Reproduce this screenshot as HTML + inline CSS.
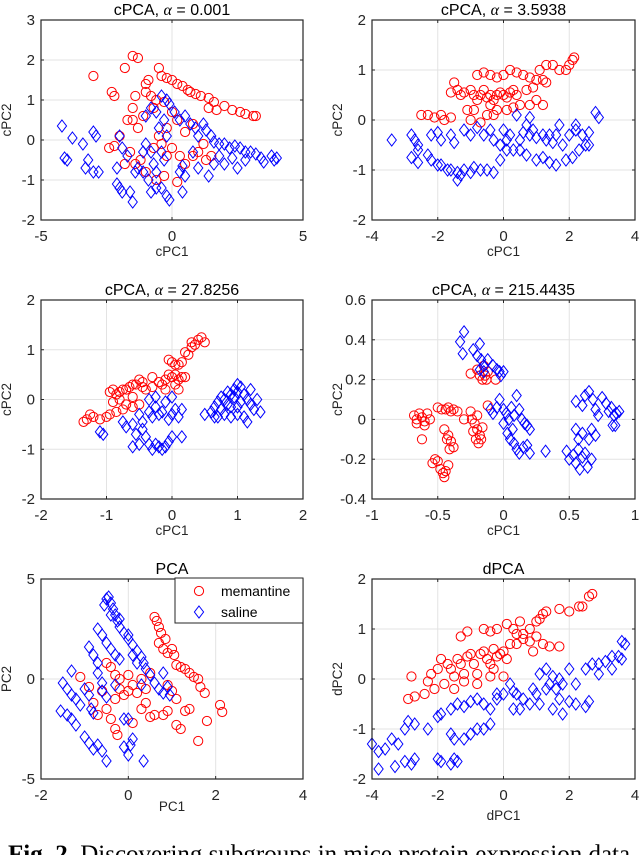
<!DOCTYPE html>
<html><head><meta charset="utf-8"><style>
html,body{margin:0;padding:0;background:#fff;overflow:hidden}
svg{display:block}
text{font-family:"Liberation Sans",sans-serif}
</style></head><body>
<svg id="fig" width="640" height="855" viewBox="0 0 640 855" xmlns="http://www.w3.org/2000/svg">
<text x="8" y="862" style="font-family:'Liberation Serif',serif;font-size:25px" fill="#000"><tspan font-weight="bold">Fig. 2.</tspan> Discovering subgroups in mice protein expression data</text>
</svg>
<script>
const p1Memantine=[[-3,1.6],[-2.3,1.2],[-2.2,1.1],[-1.5,2.1],[-1.3,2.05],[-1.8,1.8],[-1.0,1.4],[-0.9,1.5],[-1.5,0.8],[-1.7,0.5],[-1.5,0.5],[-1.3,0.3],[-1.1,0.6],[-2.4,-0.2],[-2.2,-0.15],[-2.0,0.1],[-1.6,-0.3],[-1.4,-0.6],[-1.0,-0.8],[-0.6,-1.0],[-0.3,-0.9],[0.2,-1.05],[-0.5,0.1],[-0.7,-0.2],[-0.4,-0.1],[-0.2,0.3],[0,-0.2],[0.3,-0.4],[0.5,-0.6],[0.8,-0.4],[1.0,-0.3],[1.3,-0.5],[1.5,-0.4],[0.2,0.5],[0.0,0.7],[-0.3,0.95],[-0.6,1.0],[-0.8,1.1],[-0.7,0.8],[-1.4,1.1],[-1.0,1.2],[-0.5,1.8],[-0.4,1.6],[-0.2,1.55],[0,1.5],[0.2,1.4],[0.4,1.35],[0.6,1.25],[0.7,1.2],[0.9,1.15],[1.1,1.1],[1.4,1.05],[1.6,0.95],[1.4,0.8],[1.7,0.75],[2.0,0.85],[2.3,0.75],[2.6,0.7],[2.8,0.65],[3.1,0.6],[3.2,0.6],[-0.2,-0.4],[0.5,0.2],[0.8,0.4],[-1.2,-0.5],[-1.8,-0.6],[1.2,-0.1]];
const p1Saline=[[-4.2,0.35],[-4.1,-0.45],[-4.0,-0.5],[-3.8,0.05],[-3.4,-0.1],[-3.0,0.2],[-2.9,0.1],[-3.2,-0.5],[-3.3,-0.7],[-3.0,-0.8],[-2.8,-0.8],[-2.1,-0.7],[-2.1,-1.1],[-2.0,-1.2],[-1.9,-1.3],[-1.6,-1.3],[-1.5,-1.55],[-1.9,-0.2],[-2.0,0.1],[-1.7,-0.4],[-1.4,-0.8],[-1.3,-0.7],[-1.1,-0.8],[-1.1,-0.3],[-1.0,-0.1],[-0.8,-0.3],[-0.7,-0.6],[-0.6,-0.8],[-0.6,-1.2],[-0.8,-1.3],[-0.4,-1.2],[-0.2,-1.4],[-0.1,-1.5],[0.4,-0.65],[0.3,-0.8],[0.5,-0.9],[0.4,-1.3],[-0.3,-0.5],[-0.2,0.1],[-0.5,0.3],[-0.3,0.5],[-0.6,0.7],[-0.4,1.1],[-0.2,1.0],[-0.1,0.9],[-0.8,0.8],[-1.0,0.6],[0.1,0.7],[0.3,0.5],[0.5,0.6],[0.7,0.4],[0.9,0.3],[1.0,0.1],[1.2,0.4],[1.3,0.25],[1.5,0.1],[1.6,-0.05],[1.8,-0.1],[2.0,-0.1],[2.2,-0.2],[2.4,-0.15],[2.6,-0.2],[2.8,-0.3],[3.0,-0.3],[3.2,-0.35],[3.4,-0.45],[3.8,-0.4],[3.9,-0.5],[4.0,-0.45],[1.0,-0.7],[1.4,-0.9],[2.0,-0.6],[2.5,-0.7],[1.6,-0.6],[0.8,-0.3],[1.8,-0.4],[2.3,-0.45],[2.8,-0.5],[3.5,-0.55],[-0.4,-0.3],[-0.9,-1.0]];
const p2Memantine=[[-2.5,0.1],[-2.3,0.1],[-2.1,0.05],[-1.9,0.1],[-1.8,0.0],[-1.6,0.05],[-1.6,0.55],[-1.4,0.6],[-1.5,0.75],[-1.3,0.5],[-1.2,0.55],[-1.0,0.6],[-0.9,0.5],[-0.8,0.4],[-0.7,0.5],[-0.6,0.6],[-0.5,0.45],[-0.4,0.5],[-0.3,0.4],[-0.2,0.5],[-0.1,0.55],[0,0.5],[0.1,0.45],[0.2,0.55],[0.3,0.6],[0.4,0.5],[-0.8,0.9],[-0.6,0.95],[-0.4,0.9],[-0.2,0.85],[0,0.9],[0.2,1.0],[0.4,0.95],[0.6,0.9],[0.8,0.85],[1.0,0.8],[1.2,0.8],[1.3,0.75],[1.1,1.0],[1.3,1.1],[1.5,1.1],[1.7,1.0],[1.9,1.0],[2.0,1.1],[2.1,1.2],[2.15,1.25],[-1.0,0.0],[-0.7,-0.05],[-0.5,0.1],[-0.3,0.1],[-0.2,0.2],[0.1,0.2],[0.5,0.3],[0.8,0.3],[1.0,0.4],[1.2,0.3],[0.7,0.6],[0.9,0.65],[-1.1,0.2],[-0.9,0.2],[-0.4,0.3],[0.3,0.25]];
const p2Saline=[[-3.4,-0.4],[-2.8,-0.3],[-2.7,-0.4],[-2.6,-0.5],[-2.6,-0.6],[-2.8,-0.75],[-2.6,-0.85],[-2.3,-0.7],[-2.2,-0.8],[-2.0,-0.9],[-1.9,-0.9],[-1.7,-1.0],[-1.6,-1.0],[-1.4,-1.05],[-1.3,-1.1],[-1.4,-1.2],[-1.2,-1.0],[-1.0,-1.05],[-0.9,-0.95],[-0.7,-1.0],[-0.5,-1.0],[-0.3,-1.05],[-2.2,-0.3],[-2.0,-0.25],[-1.9,-0.4],[-1.6,-0.3],[-1.5,-0.45],[-1.2,-0.2],[-1.0,-0.3],[-0.8,-0.15],[-0.6,-0.3],[-0.4,-0.2],[-0.3,-0.4],[-0.1,-0.5],[0.0,-0.2],[0.1,-0.4],[0.2,-0.3],[-0.1,-0.8],[0.1,-0.6],[0.3,-0.6],[0.5,-0.4],[0.6,-0.25],[0.7,-0.1],[0.8,-0.3],[0.9,-0.2],[1.0,-0.35],[1.2,-0.3],[1.3,-0.4],[1.4,-0.3],[1.5,-0.45],[1.6,-0.3],[1.7,-0.1],[1.8,-0.5],[2.0,-0.3],[2.2,-0.2],[2.4,-0.3],[2.6,-0.25],[2.8,0.15],[2.9,0.05],[0.5,-0.6],[0.7,-0.7],[1.0,-0.8],[1.2,-0.75],[1.4,-0.85],[1.6,-0.9],[1.9,-0.8],[2.1,-0.75],[2.3,-0.6],[2.5,-0.5],[0.4,0.1],[0.8,0.05],[2.2,-0.1],[2.6,-0.5]];
const p3Memantine=[[-1.35,-0.45],[-1.3,-0.4],[-1.2,-0.35],[-1.1,-0.4],[-1.0,-0.35],[-0.95,-0.3],[-0.85,-0.25],[-0.75,-0.2],[-0.7,-0.1],[-0.6,-0.15],[-0.95,0.15],[-0.9,0.2],[-0.85,0.1],[-0.8,0.15],[-0.75,0.2],[-0.7,0.2],[-0.65,0.25],[-0.6,0.3],[-0.55,0.3],[-0.5,0.4],[-0.45,0.35],[-0.4,0.2],[-0.3,0.45],[-0.2,0.35],[-0.15,0.3],[-0.1,0.4],[-0.05,0.5],[0,0.45],[0.05,0.5],[0.1,0.4],[0.15,0.45],[0.2,0.45],[-0.05,0.8],[0,0.75],[0.05,0.7],[0.1,0.7],[0.15,0.75],[0.2,0.95],[0.25,0.9],[0.3,1.05],[0.35,1.1],[0.4,1.2],[0.45,1.25],[0.5,1.15],[0.3,1.15],[-0.9,-0.05],[-0.8,0.0],[-0.6,0.05],[-0.5,-0.1],[-0.45,0.25],[-0.3,0.25],[-0.1,0.2],[0.05,0.3],[0.1,0.2],[-1.25,-0.3]];
const p3Saline=[[-1.1,-0.65],[-1.05,-0.7],[-0.75,-0.45],[-0.7,-0.55],[-0.6,-0.5],[-0.5,-0.3],[-0.45,-0.45],[-0.35,-0.25],[-0.3,-0.35],[-0.25,-0.15],[-0.2,-0.3],[-0.15,-0.25],[-0.1,-0.05],[-0.05,-0.4],[0,-0.3],[0.05,-0.2],[0.1,-0.35],[0.15,-0.2],[-0.35,0.0],[-0.25,0.05],[0,0.05],[-0.6,-0.95],[-0.5,-0.9],[-0.4,-0.75],[-0.35,-0.9],[-0.3,-1.0],[-0.25,-0.9],[-0.2,-0.95],[-0.15,-1.0],[-0.1,-0.95],[-0.05,-0.85],[0.0,-0.75],[0.15,-0.75],[-0.55,-0.7],[-0.45,-0.6],[0.5,-0.3],[0.6,-0.25],[0.65,-0.15],[0.7,-0.05],[0.75,0.05],[0.8,0.0],[0.85,-0.1],[0.9,0.1],[0.95,0.05],[1.0,0.15],[1.05,-0.05],[1.1,0.1],[1.15,0.0],[1.2,-0.1],[1.25,-0.2],[1.3,0.0],[1.35,-0.25],[1.0,0.3],[1.05,0.25],[0.95,0.2],[0.85,0.15],[0.8,-0.3],[0.9,-0.35],[1.0,-0.3],[1.1,-0.35],[1.15,-0.45],[0.7,-0.35],[0.75,-0.2],[0.9,-0.15],[1.0,-0.15],[1.2,0.2],[0.65,-0.35]];
const p4Memantine=[[-0.68,0.02],[-0.66,0.0],[-0.64,0.03],[-0.62,0.01],[-0.6,-0.01],[-0.58,0.03],[-0.56,0.0],[-0.66,-0.02],[-0.6,-0.03],[-0.62,-0.1],[-0.5,0.06],[-0.47,0.05],[-0.44,0.05],[-0.42,0.06],[-0.4,0.04],[-0.38,0.05],[-0.35,0.04],[-0.45,-0.05],[-0.42,-0.08],[-0.43,-0.1],[-0.4,-0.11],[-0.41,-0.15],[-0.38,-0.14],[-0.54,-0.22],[-0.52,-0.2],[-0.5,-0.21],[-0.48,-0.25],[-0.46,-0.27],[-0.44,-0.26],[-0.42,-0.23],[-0.45,-0.29],[-0.25,0.04],[-0.24,0.0],[-0.22,-0.02],[-0.2,-0.05],[-0.18,-0.08],[-0.21,-0.1],[-0.19,-0.12],[-0.17,-0.1],[-0.23,-0.06],[-0.16,-0.04],[-0.2,0.02],[-0.25,0.23],[-0.2,0.25],[-0.18,0.22],[-0.16,0.2],[-0.14,0.22],[-0.12,0.24],[-0.15,0.27],[-0.13,0.2],[-0.06,0.2],[-0.12,0.07],[-0.3,0.0]];
const p4Saline=[[-0.33,0.39],[-0.3,0.44],[-0.31,0.33],[-0.23,0.35],[-0.2,0.32],[-0.18,0.38],[-0.17,0.3],[-0.15,0.27],[-0.12,0.3],[-0.08,0.27],[-0.05,0.25],[-0.03,0.24],[-0.02,0.22],[0.0,0.24],[-0.18,0.25],[-0.15,0.24],[-0.1,0.05],[-0.08,0.03],[-0.05,0.06],[-0.03,0.1],[0,0.05],[0.02,0.03],[0.04,0.0],[0.06,0.06],[0.08,0.02],[0.1,0.12],[0.12,0.05],[0.14,0.0],[0.16,-0.02],[0.18,-0.03],[0.2,-0.05],[0.0,-0.02],[0.03,-0.07],[0.05,-0.1],[0.08,-0.12],[0.1,-0.15],[0.12,-0.17],[0.15,-0.14],[0.18,-0.13],[0.2,-0.17],[0.07,-0.05],[0.32,-0.16],[0.48,-0.16],[0.5,-0.2],[0.53,-0.18],[0.55,-0.22],[0.57,-0.15],[0.58,-0.25],[0.6,-0.19],[0.62,-0.17],[0.64,-0.24],[0.67,-0.2],[0.55,-0.05],[0.57,-0.1],[0.6,-0.07],[0.65,-0.1],[0.67,-0.05],[0.7,-0.08],[0.55,0.09],[0.6,0.07],[0.62,0.12],[0.65,0.14],[0.68,0.1],[0.7,0.05],[0.72,0.02],[0.75,0.11],[0.78,0.08],[0.8,0.04],[0.82,0.06],[0.84,0.02],[0.86,0.03],[0.83,-0.03],[0.85,-0.03],[0.88,0.04]];
const p5Memantine=[[-1.1,0.1],[-0.9,-0.4],[-0.8,-1.2],[-0.7,-1.8],[-0.5,-1.5],[-0.4,-2.0],[-0.3,-1.0],[-0.2,-0.5],[-0.1,-0.8],[0,-0.6],[0.1,-0.3],[0.2,-0.7],[-0.5,0.8],[-0.4,0.6],[-0.3,0.2],[-0.2,0.0],[0,0.2],[-0.3,-2.5],[-0.25,-2.8],[0.1,-2.2],[0.3,-1.5],[0.4,-1.2],[0.5,-1.9],[0.6,-1.8],[0.8,-1.8],[0.9,-1.6],[1.1,-2.3],[1.2,-2.5],[1.3,-1.6],[1.4,-1.5],[1.8,-2.1],[1.6,-3.1],[2.1,-1.3],[2.15,-1.65],[0.6,3.1],[0.65,2.9],[0.7,2.6],[0.75,2.3],[0.85,2.0],[0.7,1.8],[0.8,1.5],[0.9,1.3],[1.0,1.5],[1.05,1.2],[1.1,0.7],[1.2,0.6],[1.3,0.5],[1.4,0.3],[1.5,0.1],[1.6,0.0],[1.65,-0.4],[1.75,-0.7],[1.0,-0.6],[1.1,-1.0],[0.9,-0.3],[0.5,0.3],[0.4,-0.5],[0.3,0.0],[-0.6,-0.6]];
const p5Saline=[[-1.5,-0.2],[-1.4,-0.5],[-1.3,-0.8],[-1.2,-1.0],[-1.1,-1.3],[-1.55,-1.6],[-1.4,-1.8],[-1.3,-2.0],[-1.2,-2.3],[-1.3,0.4],[-1.0,-0.5],[-0.9,-0.8],[-0.85,-1.5],[-0.8,-1.7],[-0.9,1.6],[-0.8,1.2],[-0.7,0.8],[-0.7,0.3],[-0.6,-0.2],[-1.0,-2.9],[-0.9,-3.2],[-0.8,-3.5],[-0.7,-3.3],[-0.6,-3.6],[-0.5,-4.1],[-0.7,2.5],[-0.6,2.2],[-0.5,1.8],[-0.4,1.5],[-0.3,1.2],[-0.2,1.0],[-0.5,4.0],[-0.45,4.1],[-0.4,3.8],[-0.35,3.5],[-0.3,3.2],[-0.25,2.9],[-0.2,2.6],[-0.1,2.3],[0,2.0],[0.1,1.7],[0.2,1.4],[0.3,1.1],[0.35,0.8],[0.4,0.5],[-0.55,3.7],[-0.4,3.2],[-0.2,3.0],[0,2.2],[0.1,1.2],[0.2,0.8],[0.5,0.2],[0.6,-0.2],[0.7,-0.5],[0.8,-0.7],[0.9,-0.4],[0.95,-0.8],[-0.1,-2.0],[0,-2.0],[0.1,-3.0],[0.05,-3.3],[-0.1,-3.4],[0,-3.8],[0.35,-4.1],[-0.6,-0.6],[-0.5,-0.9],[-0.3,-0.3],[0.3,-0.3],[0.8,0.3]];
const p6Memantine=[[-2.9,-0.4],[-2.7,-0.35],[-2.8,0.05],[-2.4,-0.3],[-2.3,-0.05],[-2.2,0.1],[-2.1,-0.2],[-2.0,0.2],[-1.9,0.4],[-1.8,-0.1],[-1.7,0.3],[-1.6,0.2],[-1.5,-0.2],[-1.4,0.4],[-1.3,0.3],[-1.2,0.1],[-1.1,0.45],[-1.0,0.5],[-0.9,0.3],[-0.8,0.1],[-0.7,0.5],[-0.6,0.55],[-0.5,0.4],[-0.4,0.3],[-0.3,0.6],[-0.2,0.45],[-0.1,0.5],[0,0.55],[0.1,0.4],[0.2,0.7],[-0.4,0.05],[0,0.05],[-0.8,-0.1],[-1.2,-0.05],[-1.3,0.85],[-1.1,0.95],[-0.6,1.0],[-0.4,0.95],[-0.2,1.0],[0.1,1.1],[0.3,1.0],[0.5,1.15],[0.4,0.9],[0.6,0.9],[0.8,1.0],[1.0,1.15],[1.1,1.2],[1.2,1.3],[1.3,1.35],[1.7,1.4],[2.0,1.35],[2.3,1.45],[2.4,1.45],[2.6,1.65],[2.7,1.7],[0.4,0.7],[0.6,0.8],[0.8,0.75],[1.0,0.85],[1.2,0.7],[1.4,0.65],[1.7,0.65],[0.9,0.55],[-0.3,0.2],[-1.5,0.05]];
const p6Saline=[[-4.0,-1.3],[-3.8,-1.45],[-3.6,-1.4],[-3.4,-1.2],[-3.2,-1.3],[-3.0,-1.0],[-2.9,-0.85],[-2.7,-0.9],[-3.8,-1.8],[-3.3,-1.75],[-3.0,-1.65],[-2.8,-1.7],[-2.7,-1.6],[-2.3,-1.0],[-2.0,-0.75],[-1.9,-0.7],[-2.0,-1.6],[-1.9,-1.65],[-1.6,-1.7],[-1.5,-1.6],[-1.4,-1.65],[-1.6,-1.1],[-1.5,-1.2],[-1.2,-1.2],[-1.0,-1.1],[-0.8,-1.0],[-0.6,-1.0],[-0.4,-0.9],[-1.6,-0.6],[-1.4,-0.5],[-1.2,-0.55],[-1.0,-0.45],[-0.8,-0.4],[-0.6,-0.5],[-0.4,-0.6],[-0.2,-0.4],[0,-0.3],[0.2,-0.1],[0.3,-0.25],[0.4,-0.3],[0.5,-0.6],[0.6,-0.4],[0.8,-0.5],[0.9,-0.2],[1.0,-0.3],[1.1,-0.5],[1.3,-0.2],[1.4,-0.1],[1.5,-0.6],[1.7,-0.4],[1.8,-0.7],[2.0,-0.45],[2.2,-0.5],[2.5,-0.55],[2.6,-0.45],[1.1,0.1],[1.3,0.2],[1.5,0.05],[1.7,0.0],[2.0,0.2],[2.2,-0.1],[2.5,0.2],[2.7,0.3],[2.9,0.3],[3.1,0.35],[3.3,0.45],[3.5,0.45],[3.6,0.75],[3.7,0.7],[3.6,0.4],[3.3,0.2],[2.9,0.1],[1.8,-0.1],[1.6,-0.2],[-0.2,-0.3],[0.3,-0.6]];
const p1XTicks=[-5,0,5], p1YTicks=[-2,-1,0,1,2,3];
const p2XTicks=[-4,-2,0,2,4], p2YTicks=[-2,-1,0,1,2];
const p3XTicks=[-2,-1,0,1,2], p3YTicks=[-2,-1,0,1,2];
const p4XTicks=[-1,-0.5,0,0.5,1], p4YTicks=[-0.4,-0.2,0,0.2,0.4,0.6];
const p5XTicks=[-2,0,2,4], p5YTicks=[-5,0,5];
const p6XTicks=[-4,-2,0,2,4], p6YTicks=[-2,-1,0,1,2];

const NS='http://www.w3.org/2000/svg';
const svg=document.getElementById('fig');
function mk(tag,attrs,parent){const e=document.createElementNS(NS,tag);for(const k in attrs)e.setAttribute(k,attrs[k]);(parent||svg).appendChild(e);return e;}
function circle(g,x,y){const c=mk('circle',{cx:x,cy:y,r:4.6,fill:'none',stroke:'#ff0000','stroke-width':1},g);

}
function diamond(g,x,y){const d=mk('path',{d:`M${x} ${y-6}L${x+4.6} ${y}L${x} ${y+6}L${x-4.6} ${y}Z`,fill:'none',stroke:'#0000ff','stroke-width':1},g);

}
function panel(o){
  const g=mk('g',{});
  
  
  const xmin=o.xt[0],xmax=o.xt[o.xt.length-1],ymin=o.yt[0],ymax=o.yt[o.yt.length-1];
  const sx=v=>o.x0+(v-xmin)/(xmax-xmin)*(o.x1-o.x0);
  const sy=v=>o.y1-(v-ymin)/(ymax-ymin)*(o.y1-o.y0);
  o.xt.forEach(t=>{const X=sx(t);
    mk('line',{x1:X,x2:X,y1:o.y0,y2:o.y1,stroke:'#e3e3e3','stroke-width':1},g);
    mk('line',{x1:X,x2:X,y1:o.y1,y2:o.y1-3,stroke:'#262626'},g);
    mk('line',{x1:X,x2:X,y1:o.y0,y2:o.y0+3,stroke:'#262626'},g);
    const tx=mk('text',{x:X,y:o.y1+21,'text-anchor':'middle','font-size':15,fill:'#262626'},g);tx.textContent=String(t);
    
    });
  o.yt.forEach(t=>{const Y=sy(t);
    mk('line',{x1:o.x0,x2:o.x1,y1:Y,y2:Y,stroke:'#e3e3e3','stroke-width':1},g);
    mk('line',{x1:o.x0,x2:o.x0+3,y1:Y,y2:Y,stroke:'#262626'},g);
    mk('line',{x1:o.x1,x2:o.x1-3,y1:Y,y2:Y,stroke:'#262626'},g);
    const tx=mk('text',{x:o.x0-6,y:Y+5,'text-anchor':'end','font-size':15,fill:'#262626'},g);tx.textContent=String(t);
    
    });
  const pts=mk('g',{},g);
  o.mem.forEach(p=>circle(pts,sx(p[0]),sy(p[1])));
  o.sal.forEach(p=>diamond(pts,sx(p[0]),sy(p[1])));
  mk('rect',{x:o.x0,y:o.y0,width:o.x1-o.x0,height:o.y1-o.y0,fill:'none',stroke:'#262626','stroke-width':1.2},g);
  const xl=mk('text',{x:(o.x0+o.x1)/2,y:o.y1+(o.xlOff||36),'text-anchor':'middle','font-size':13.5,fill:'#262626'},g);xl.textContent=o.xl;
  
  
  const yx=o.x0-30,yy=(o.y0+o.y1)/2;
  const yl=mk('text',{x:yx,y:yy,'text-anchor':'middle','font-size':13.5,fill:'#262626',transform:`rotate(-90 ${yx} ${yy})`},g);yl.textContent=o.yl;
  
  
  const ti=mk('text',{x:(o.x0+o.x1)/2,y:o.y0-5,'text-anchor':'middle','font-size':16,fill:'#000'},g);
  ti.innerHTML=o.title;
  
  
  return {sx,sy,g};
}
const al=v=>`cPCA, <tspan font-family="Liberation Serif" font-style="italic">α</tspan> = ${v}`;
panel({name:'panel-cpca-0001',x0:41,x1:303,y0:20,y1:220,xt:p1XTicks,yt:p1YTicks,mem:p1Memantine,sal:p1Saline,xl:'cPC1',yl:'cPC2',title:al('0.001')});
panel({name:'panel-cpca-3-5938',x0:372,x1:635,y0:20,y1:220,xt:p2XTicks,yt:p2YTicks,mem:p2Memantine,sal:p2Saline,xl:'cPC1',yl:'cPC2',title:al('3.5938')});
panel({name:'panel-cpca-27-8256',x0:41,x1:303,y0:300,y1:499,xt:p3XTicks,yt:p3YTicks,mem:p3Memantine,sal:p3Saline,xl:'cPC1',yl:'cPC2',title:al('27.8256')});
panel({name:'panel-cpca-215-4435',x0:372,x1:635,y0:300,y1:499,xt:p4XTicks,yt:p4YTicks,mem:p4Memantine,sal:p4Saline,xl:'cPC1',yl:'cPC2',title:al('215.4435')});
panel({name:'panel-pca',x0:41,x1:303,y0:579,y1:779,xt:p5XTicks,yt:p5YTicks,mem:p5Memantine,sal:p5Saline,xl:'PC1',yl:'PC2',title:'PCA',xlOff:32});
panel({name:'panel-dpca',x0:372,x1:635,y0:579,y1:779,xt:p6XTicks,yt:p6YTicks,mem:p6Memantine,sal:p6Saline,xl:'dPC1',yl:'dPC2',title:'dPCA',xlOff:41});
// legend
const lg=mk('g',{});


mk('rect',{x:175,y:578,width:128,height:45,fill:'#fff',stroke:'#262626','stroke-width':1},lg);
const e1=mk('g',{},lg);


circle(e1,199,591);
const t1=mk('text',{x:221,y:596,'font-size':14,fill:'#000'},e1);t1.textContent='memantine';
const e2=mk('g',{},lg);


diamond(e2,199,612);
const t2=mk('text',{x:221,y:617,'font-size':14,fill:'#000'},e2);t2.textContent='saline';
</script>
</body></html>
